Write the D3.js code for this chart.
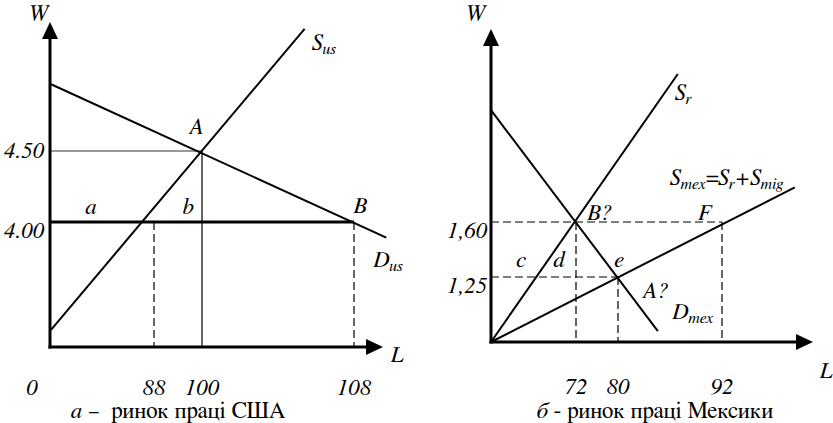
<!DOCTYPE html>
<html>
<head>
<meta charset="utf-8">
<script src="https://cdn.jsdelivr.net/npm/d3@7"></script>
<style>
  body { margin: 0; background: #fff; }
</style>
</head>
<body>
<div id="chart"></div>
<script>
const width = 833;
const height = 423;

// US labour market (panel a)
const usTicksL = [0, 88, 100, 108];
const usTicksW = [4.00, 4.50];
const usSupply = [[0.85, 3.24], [105.4, 5.36]];
const usDemand = [[0.9, 4.97], [109.7, 3.89]];

// Mexico labour market (panel б)
const mxTicksL = [72, 80, 92];
const mxTicksW = [1.25, 1.60];
const mxSupplyR = [[0, 0], [86.9, 2.54]];
const mxSupplyMex = [[0, 0], [100.4, 1.82]];
const mxDemand = [[0, 2.31], [84.6, 0.21]];

const captions = ["а –  ринок праці США", "б - ринок праці Мексики"];

const FS = 23, SUB = 16;

const svg = d3.select("#chart").append("svg")
    .attr("width", width)
    .attr("height", height)
    .attr("font-family", "FreeSerif, 'Liberation Serif', 'Times New Roman', serif");

// schematic (piecewise) scales
const xUS = d3.scaleLinear().domain([0, 88, 100, 108]).range([50, 154, 202, 354]);
const yUS = d3.scaleLinear().domain([4.0, 4.5]).range([222, 151]);
const xMX = d3.scaleLinear().domain([0, 72, 80, 92]).range([491, 576, 618, 722]);
const yMX = d3.scaleLinear().domain([0, 1.25, 1.6, 2.0]).range([342, 277, 222, 159]);

const line = (x, y) => d3.line().x(d => x(d[0])).y(d => y(d[1]));

function axes(g, x0, y0, xTip, yTip) {
    g.append("line").attr("x1", x0).attr("y1", y0 + 1.5).attr("x2", x0).attr("y2", yTip + 14)
        .attr("stroke", "#000").attr("stroke-width", 3);
    g.append("line").attr("x1", x0 - 1.5).attr("y1", y0).attr("x2", xTip - 14).attr("y2", y0)
        .attr("stroke", "#000").attr("stroke-width", 3);
    g.append("path").attr("d", `M${x0},${yTip}L${x0 - 8},${yTip + 17}L${x0 + 8},${yTip + 17}Z`);
    g.append("path").attr("d", `M${xTip},${y0}L${xTip - 17},${y0 - 8}L${xTip - 17},${y0 + 8}Z`);
}

function label(g, x, y, main, sub, anchor) {
    const t = g.append("text")
        .attr("x", x).attr("y", y)
        .attr("text-anchor", anchor || "start")
        .attr("font-style", "italic")
        .attr("font-size", FS);
    t.append("tspan").text(main);
    if (sub) t.append("tspan").attr("dy", 4).attr("font-size", SUB).text(sub);
    return t;
}

// ---------- panel a ----------
const gA = svg.append("g");
const botA = 347;

// thin guides at 4.50 and at 100
gA.append("line")
    .attr("x1", xUS(0)).attr("x2", xUS(100))
    .attr("y1", yUS(4.5)).attr("y2", yUS(4.5))
    .attr("stroke", "#333").attr("stroke-width", 1.2);
gA.append("line")
    .attr("x1", xUS(100)).attr("x2", xUS(100))
    .attr("y1", yUS(4.5)).attr("y2", botA)
    .attr("stroke", "#000").attr("stroke-width", 1.2);

// dashed drops at 88 and 108
[88, 108].forEach(v => {
    gA.append("line")
        .attr("x1", xUS(v)).attr("x2", xUS(v))
        .attr("y1", yUS(4.0)).attr("y2", botA)
        .attr("stroke", "#000").attr("stroke-width", 1.2)
        .attr("stroke-dasharray", "8,4");
});

// thick line at 4.00
gA.append("line")
    .attr("x1", xUS(0)).attr("x2", xUS(108))
    .attr("y1", yUS(4.0)).attr("y2", yUS(4.0))
    .attr("stroke", "#000").attr("stroke-width", 3);

gA.append("path").attr("d", line(xUS, yUS)(usSupply))
    .attr("fill", "none").attr("stroke", "#000").attr("stroke-width", 2);
gA.append("path").attr("d", line(xUS, yUS)(usDemand))
    .attr("fill", "none").attr("stroke", "#000").attr("stroke-width", 2);

axes(gA, xUS(0), botA, 383, 22);

label(gA, 38, 21, "W", null, "middle");
label(gA, 397, 362, "L", null, "middle");
label(gA, 312, 50, "S", "us");
label(gA, 373, 267, "D", "us");
label(gA, 196, 134, "A", null, "middle");
label(gA, xUS(108) + 6, yUS(4.0) - 9, "B", null, "middle");
label(gA, 91, yUS(4.0) - 8, "a", null, "middle");
label(gA, 188, yUS(4.0) - 8, "b", null, "middle");

gA.append("text").attr("x", 24).attr("y", yUS(4.5) + 7)
    .attr("text-anchor", "middle").attr("font-style", "italic").attr("font-size", FS)
    .text(d3.format(".2f")(usTicksW[1]));
gA.append("text").attr("x", 24).attr("y", yUS(4.0) + 16)
    .attr("text-anchor", "middle").attr("font-style", "italic").attr("font-size", FS)
    .text(d3.format(".2f")(usTicksW[0]));

gA.selectAll(".tickL").data(usTicksL).join("text")
    .attr("x", d => d === 0 ? xUS(d) - 18 : xUS(d))
    .attr("y", 395)
    .attr("text-anchor", "middle")
    .attr("font-style", "italic").attr("font-size", FS)
    .text(d => d);

const capA = gA.append("text").attr("x", 178).attr("y", 418)
    .attr("text-anchor", "middle").attr("font-size", FS)
    .style("white-space", "pre");
capA.append("tspan").attr("font-style", "italic").text(captions[0].slice(0, 1));
capA.append("tspan").text(captions[0].slice(1));

// ---------- panel б ----------
const gB = svg.append("g");
const botB = yMX(0);
const fmtC = d => d3.format(".2f")(d).replace(".", ",");

gB.selectAll(".hdash").data([[1.6, 92], [1.25, 80]]).join("line")
    .attr("x1", xMX(0)).attr("x2", d => xMX(d[1]))
    .attr("y1", d => yMX(d[0])).attr("y2", d => yMX(d[0]))
    .attr("stroke", "#000").attr("stroke-width", 1.2).attr("stroke-dasharray", "8,4");
gB.selectAll(".vdash").data([[72, 1.6], [92, 1.6], [80, 1.25]]).join("line")
    .attr("x1", d => xMX(d[0])).attr("x2", d => xMX(d[0]))
    .attr("y1", d => yMX(d[1])).attr("y2", botB)
    .attr("stroke", "#000").attr("stroke-width", 1.2).attr("stroke-dasharray", "8,4");

[mxSupplyR, mxSupplyMex, mxDemand].forEach(s => {
    gB.append("path").attr("d", line(xMX, yMX)(s))
        .attr("fill", "none").attr("stroke", "#000").attr("stroke-width", 2);
});

axes(gB, xMX(0), botB, 813, 29);

label(gB, 475, 21, "W", null, "middle");
label(gB, 826, 378, "L", null, "middle");
label(gB, 675, 100, "S", "r");
const sm = label(gB, 670, 185, "S", "mex");
sm.append("tspan").attr("dy", -4).text("=S");
sm.append("tspan").attr("dy", 4).attr("font-size", SUB).text("r");
sm.append("tspan").attr("dy", -4).text("+S");
sm.append("tspan").attr("dy", 4).attr("font-size", SUB).text("mig");
label(gB, 587, 220, "B?");
label(gB, 698, 220, "F");
label(gB, 521, 267, "c", null, "middle");
label(gB, 559, 267, "d", null, "middle");
label(gB, 619, 267, "e", null, "middle");
label(gB, 642, 298, "A?");
label(gB, 672, 319, "D", "mex");

mxTicksW.forEach(v => {
    gB.append("text").attr("x", 467).attr("y", yMX(v) + 16)
        .attr("text-anchor", "middle").attr("font-style", "italic").attr("font-size", FS)
        .text(fmtC(v));
});

gB.selectAll(".tickL").data(mxTicksL).join("text")
    .attr("x", d => xMX(d))
    .attr("y", 394)
    .attr("text-anchor", "middle")
    .attr("font-style", "italic").attr("font-size", FS)
    .text(d => d);

const capB = gB.append("text").attr("x", 655).attr("y", 418)
    .attr("text-anchor", "middle").attr("font-size", FS);
capB.append("tspan").attr("font-style", "italic").text(captions[1].slice(0, 1));
capB.append("tspan").text(captions[1].slice(1));
</script>
</body>
</html>
